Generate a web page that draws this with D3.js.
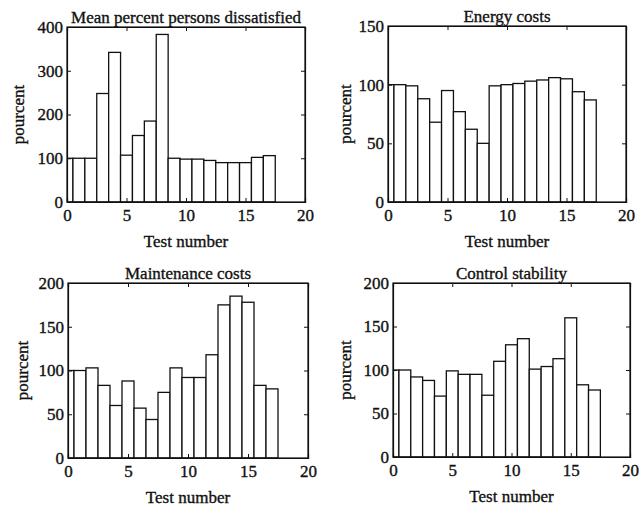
<!DOCTYPE html>
<html>
<head>
<meta charset="utf-8">
<script src="https://cdn.jsdelivr.net/npm/d3@7"></script>
<style>
  body { margin: 0; background: #fff; }
  text { font-family: "Liberation Serif", "Times New Roman", serif; fill: #111; stroke: #111; stroke-width: 0.35px; }
</style>
</head>
<body>
<div id="chart-area"></div>
<script>
const W = 641, H = 507

// data
const testNumbers = d3.range(0, 18)
const ppdValues = [100, 100, 100, 248, 342, 107, 152, 185, 383, 100, 98, 98, 95, 90, 90, 90, 102, 106]
const energyValues = [100, 100, 99, 88, 68, 95, 77, 62, 50, 99, 100, 101, 103, 104, 106, 105, 94, 87]
const maintenanceValues = [100, 100, 103, 83, 60, 88, 57, 44, 75, 103, 92, 92, 118, 175, 185, 178, 83, 79]
const stabilityValues = [100, 100, 92, 88, 70, 99, 95, 95, 71, 110, 129, 136, 101, 104, 113, 160, 83, 77]
const xTicks = [0, 5, 10, 15, 20]
const ppdTicks = [0, 100, 200, 300, 400]
const energyTicks = [0, 50, 100, 150]
const costTicks = [0, 50, 100, 150, 200]

const panels = [
	{ title: "Mean percent persons dissatisfied", values: ppdValues, yTicks: ppdTicks, box: { l: 67, r: 305, t: 27, b: 202 }, yLab: 18 },
	{ title: "Energy costs", values: energyValues, yTicks: energyTicks, box: { l: 388, r: 626, t: 26, b: 202 }, yLab: 345 },
	{ title: "Maintenance costs", values: maintenanceValues, yTicks: costTicks, box: { l: 68, r: 308, t: 283, b: 458 }, yLab: 22 },
	{ title: "Control stability", values: stabilityValues, yTicks: costTicks, box: { l: 393, r: 630, t: 283, b: 457 }, yLab: 345 }
]

const svg = d3.select("#chart-area").append("svg")
	.attr("width", W)
	.attr("height", H)

panels.forEach((p, i) => {
	const b = p.box
	const x = d3.scaleLinear().domain([0, 20]).range([b.l, b.r])
	const y = d3.scaleLinear().domain([0, d3.max(p.yTicks)]).range([b.b, b.t])

	const g = svg.append("g")

	// clip so the first bar is cut at x = 0
	g.append("clipPath").attr("id", "clip" + i)
		.append("rect")
		.attr("x", b.l).attr("y", b.t)
		.attr("width", b.r - b.l).attr("height", b.b - b.t)

	g.append("g")
		.attr("clip-path", `url(#clip${i})`)
		.selectAll("rect")
		.data(testNumbers)
		.join("rect")
		.attr("x", d => x(d - 0.5))
		.attr("width", d => x(d + 0.5) - x(d - 0.5))
		.attr("y", d => y(p.values[d]))
		.attr("height", d => y(0) - y(p.values[d]))
		.attr("fill", "#fff")
		.attr("stroke", "#111")
		.attr("stroke-width", 1.3)

	// axes: labelled bottom/left, inward ticks on all four sides
	const xAxisCall = d3.axisBottom(x).tickValues(xTicks).tickSize(-4).tickPadding(7)
	const yAxisCall = d3.axisLeft(y).tickValues(p.yTicks).tickSize(-4).tickPadding(4)

	const xAxis = g.append("g").attr("transform", `translate(0, ${b.b})`).call(xAxisCall)
	const yAxis = g.append("g").attr("transform", `translate(${b.l}, 0)`).call(yAxisCall)
	g.append("g").attr("transform", `translate(0, ${b.t})`)
		.call(d3.axisTop(x).tickValues(xTicks).tickSize(-4).tickFormat(""))
	g.append("g").attr("transform", `translate(${b.r}, 0)`)
		.call(d3.axisRight(y).tickValues(p.yTicks).tickSize(-4).tickFormat(""))

	g.selectAll(".domain").attr("stroke", "#111").attr("stroke-width", 1.2)
	g.selectAll(".tick line").attr("stroke", "#111")
	xAxis.selectAll("text").attr("font-size", "17px").attr("font-family", "Liberation Serif")
	yAxis.selectAll("text").attr("font-size", "17px").attr("font-family", "Liberation Serif")

	// frame
	g.append("rect")
		.attr("x", b.l).attr("y", b.t)
		.attr("width", b.r - b.l).attr("height", b.b - b.t)
		.attr("fill", "none").attr("stroke", "#111").attr("stroke-width", 1.2)

	// title
	g.append("text")
		.attr("x", (b.l + b.r) / 2)
		.attr("y", b.t - 4)
		.attr("text-anchor", "middle")
		.attr("font-size", "17px")
		.text(p.title)

	// X label
	g.append("text")
		.attr("x", (b.l + b.r) / 2)
		.attr("y", b.b + 45)
		.attr("text-anchor", "middle")
		.attr("font-size", "17px")
		.text("Test number")

	// Y label
	g.append("text")
		.attr("transform", `translate(${p.yLab}, ${(b.t + b.b) / 2}) rotate(-90)`)
		.attr("dy", "0.35em")
		.attr("text-anchor", "middle")
		.attr("font-size", "17px")
		.text("pourcent")
})
</script>
</body>
</html>
